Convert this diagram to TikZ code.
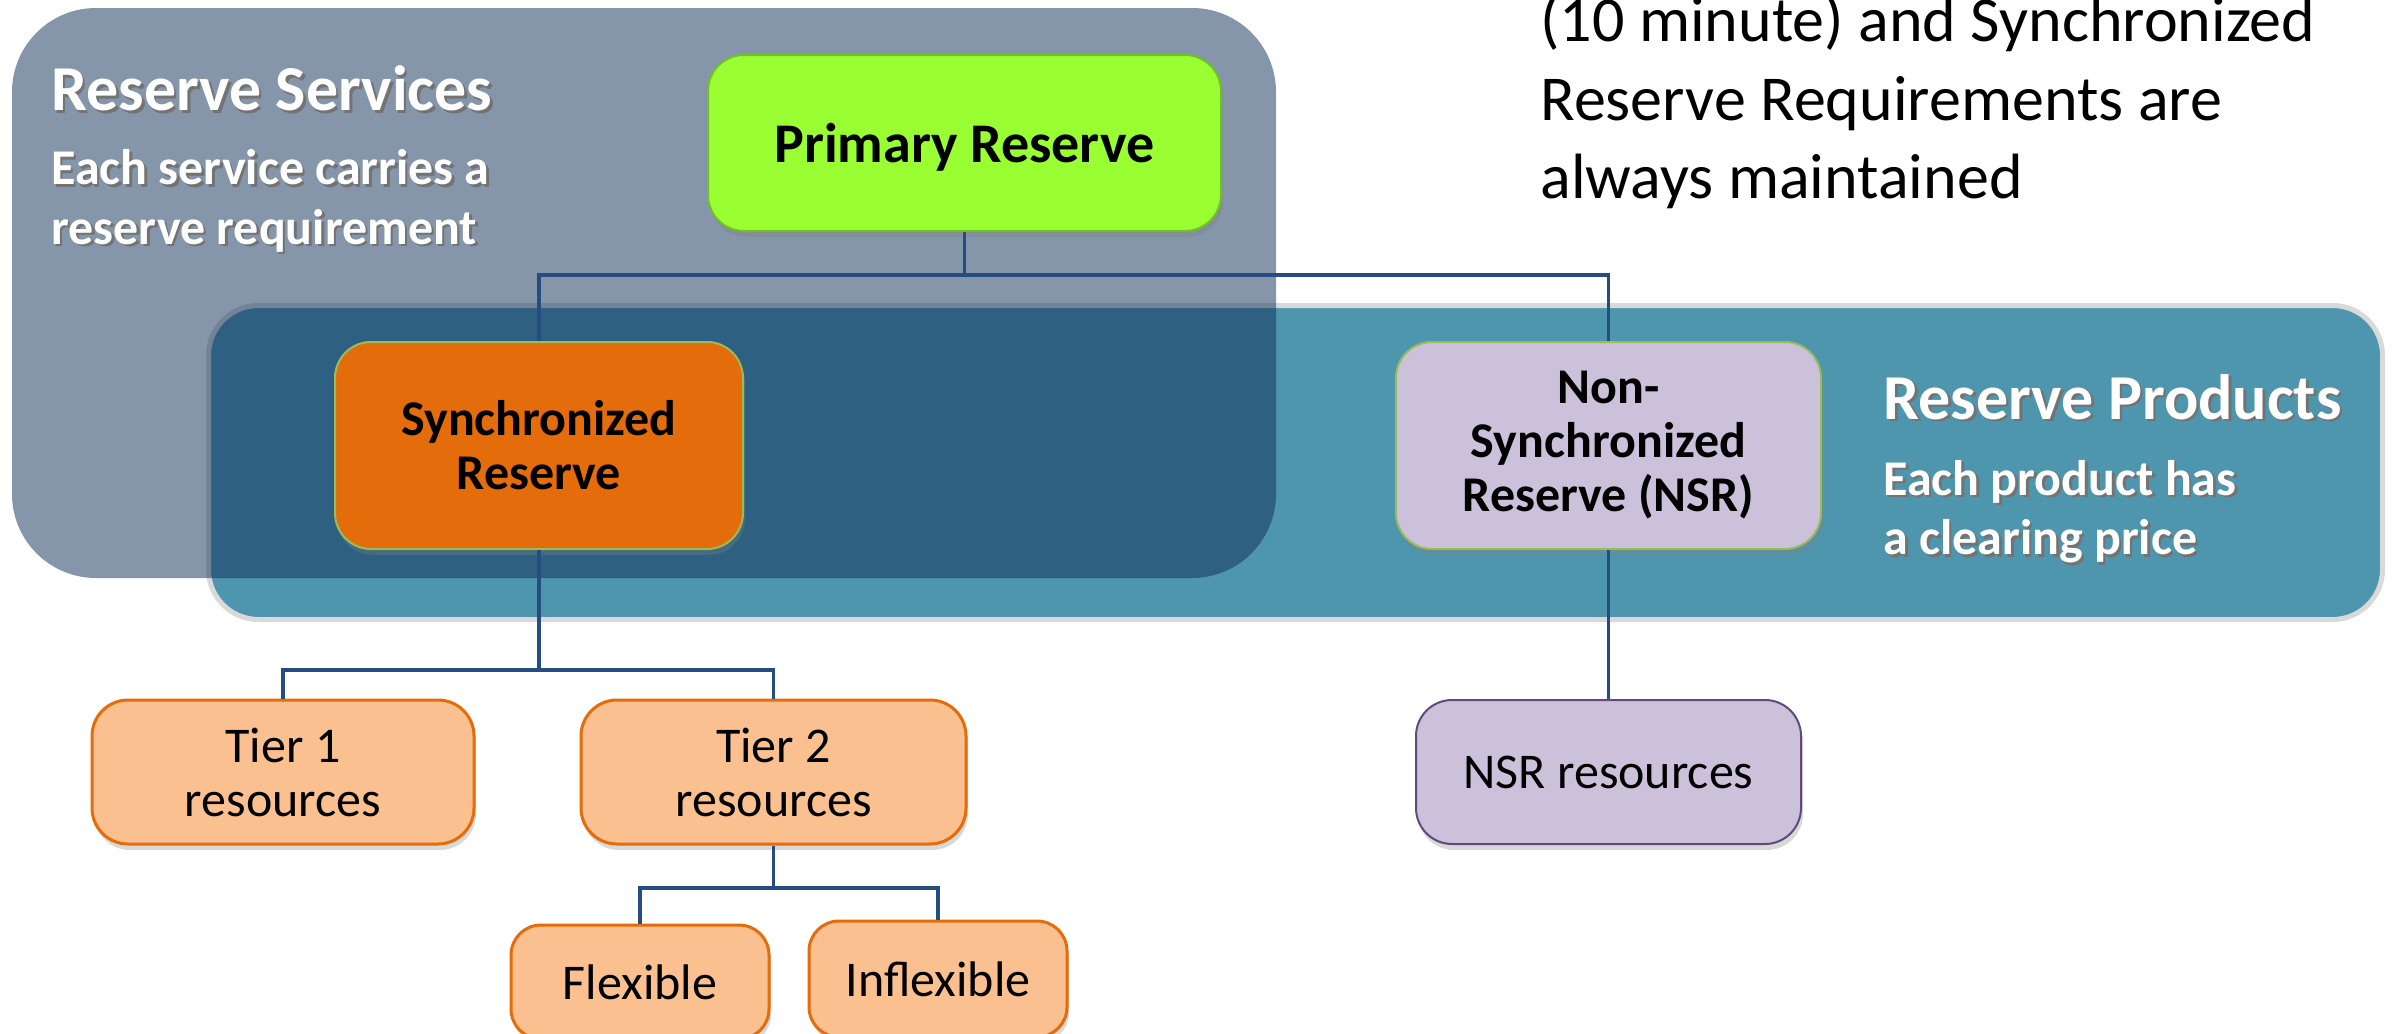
\documentclass[tikz,border=0pt]{standalone}
\usepackage{fontspec}
\setmainfont{Carlito}
\usetikzlibrary{shadows}

\definecolor{prodteal}{RGB}{78,150,173}
\definecolor{servnavy}{RGB}{16,47,88}
\definecolor{primgreen}{RGB}{153,255,51}
\definecolor{syncorange}{RGB}{228,108,10}
\definecolor{nsrlilac}{RGB}{204,193,218}
\definecolor{tierpeach}{RGB}{250,192,144}
\definecolor{nsrpurple}{RGB}{96,74,123}
\definecolor{linkblue}{RGB}{38,77,130}
\definecolor{edgegreen}{RGB}{155,187,89}

% white text with a small dark shadow behind it
\newcommand{\shadowed}[1]{\rlap{\kern1.3pt\raisebox{-1.3pt}{\textcolor{black!55}{#1}}}#1}

\tikzset{
  box/.style={rounded corners=18pt, align=center, inner sep=0pt,
    drop shadow={shadow xshift=1pt, shadow yshift=-3pt, opacity=0.3}},
  topbox/.style={box, line width=1pt, font=\bfseries\fontsize{25}{27}\selectfont},
  resbox/.style={box, fill=tierpeach, draw=syncorange, line width=1.5pt,
    minimum height=72pt, font=\fontsize{25}{27}\selectfont},
  link/.style={color=linkblue, line width=1.7pt},
  title/.style={text=white, inner sep=0pt, anchor=base west, font=\bfseries\fontsize{32}{38}\selectfont},
  caption/.style={text=white, inner sep=0pt, anchor=base west, font=\bfseries\fontsize{25}{30}\selectfont},
  note/.style={text=black, inner sep=0pt, anchor=base west, font=\fontsize{32}{38}\selectfont}
}

\begin{document}
\begin{tikzpicture}[x=0.5pt,y=-0.5pt]
\useasboundingbox (0,0) rectangle (2397,1033);

% the two groups
\draw[fill=prodteal, draw=black!15, line width=2.5pt, rounded corners=25pt] (208.5,305.5) rectangle (2382.5,619.5);
\fill[servnavy, opacity=0.51, rounded corners=42pt] (12,8) rectangle (1276,578);

\node[title] (servtitle) at (51,110.5) {\shadowed{Reserve Services}};
\node[caption] (servline1) at (51,184.5) {\shadowed{Each service carries a}};
\node[caption] (servline2) at (51,244) {\shadowed{reserve requirement}};

\node[title] (prodtitle) at (1883,419) {\shadowed{Reserve Products}};
\node[caption] (prodline1) at (1883,495) {\shadowed{Each product has}};
\node[caption] (prodline2) at (1883,554.5) {\shadowed{a clearing price}};

\node[note] (note1) at (1540,41.5) {(10 minute) and Synchronized};
\node[note] (note2) at (1540,120) {Reserve Requirements are};
\node[note] (note3) at (1540,198) {always maintained};

% boxes
\node[topbox, fill=primgreen, draw=primgreen!75!black, minimum width=256.5pt, minimum height=88pt,
  text depth=0pt, font=\bfseries\fontsize{28}{30}\selectfont] (prim) at (964.5,143) {Primary Reserve};
\node[topbox, fill=syncorange, draw=edgegreen, minimum width=204pt, minimum height=103.5pt] (sync) at (539,445.5) {Synchronized\\Reserve};
\node[topbox, fill=nsrlilac, draw=edgegreen, minimum width=212.5pt, minimum height=103.5pt] (nsr) at (1608.5,445.5) {Non-\\Synchronized\\Reserve (NSR)};

\node[resbox, minimum width=191pt] (tierone) at (283,772) {Tier 1\\resources};
\node[resbox, minimum width=192.5pt] (tiertwo) at (773.5,772) {Tier 2\\resources};
\node[resbox, fill=nsrlilac, draw=nsrpurple, line width=1pt, minimum width=192.5pt] (nsrres) at (1608.5,772) {NSR resources};

\node[resbox, minimum width=129pt, minimum height=57pt, rounded corners=15pt] (flex) at (640,982) {Flexible};
\node[resbox, minimum width=129pt, minimum height=58pt, rounded corners=15pt] (inflex) at (938,979) {Inflexible};

% connectors
\coordinate (jtop) at (964.5,275);
\coordinate (jsync) at (539,670);
\coordinate (jtier) at (773.5,888);

\draw[link] (prim.south) -- (jtop);
\draw[link] (jtop) -| (sync.north);
\draw[link] (jtop) -| (nsr.north);
\draw[link] (sync.south) -- (jsync);
\draw[link] (jsync) -| (tierone.north);
\draw[link] (jsync) -| (tiertwo.north);
\draw[link] (nsr.south) -- (nsrres.north);
\draw[link] (tiertwo.south) -- (jtier);
\draw[link] (jtier) -| (flex.north);
\draw[link] (jtier) -| (inflex.north);
\end{tikzpicture}
\end{document}
